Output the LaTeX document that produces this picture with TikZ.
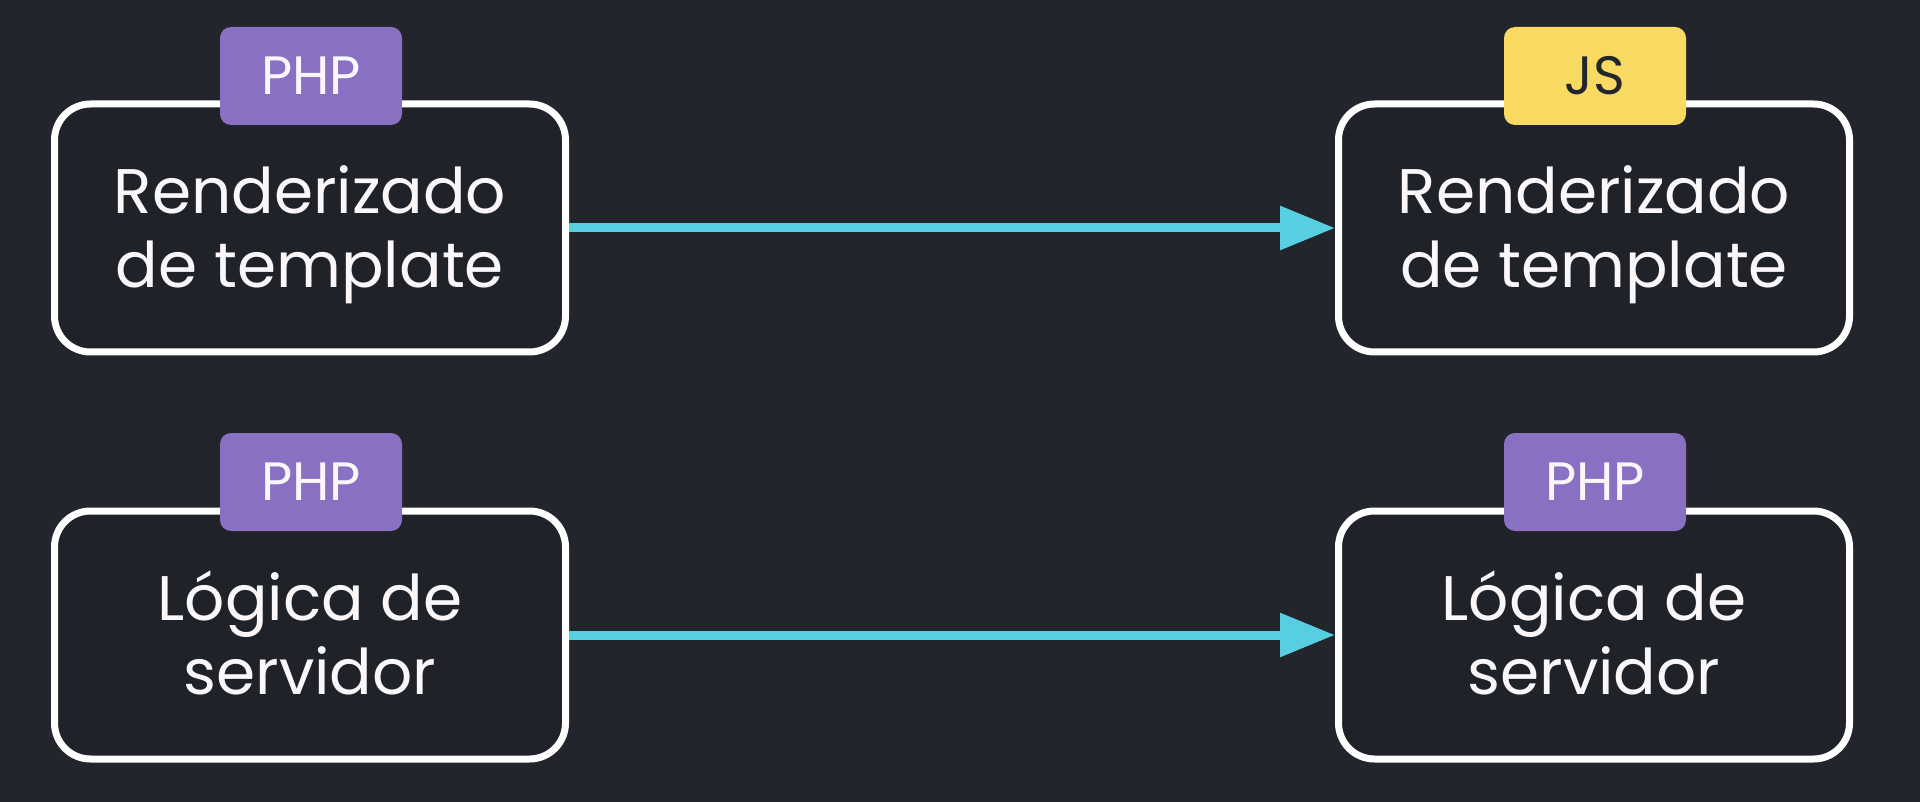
\documentclass[tikz,border=0pt]{standalone}
\usepackage{fontspec}
\setmainfont{Poppins}
\usetikzlibrary{arrows.meta}
\definecolor{bgdark}{HTML}{23252D}
\definecolor{boxfill}{HTML}{202229}
\definecolor{phppurple}{HTML}{8A70C3}
\definecolor{jsyellow}{HTML}{F8D962}
\definecolor{flowcyan}{HTML}{57CFE0}
\definecolor{labelwhite}{HTML}{FAF7FB}
% two centred lines, set a little below the box centre
\newcommand{\stagetext}[1]{\raisebox{-8pt}[\height][\depth]{\begin{tabular}{@{}c@{}}#1\end{tabular}}}
\tikzset{
  stagebox/.style={draw=white, line width=7pt, rounded corners=36pt,
    fill=boxfill, text=labelwhite,
    minimum width=511pt, minimum height=248pt, inner sep=0pt,
    font=\fontsize{63}{74}\selectfont},
  langtag/.style={rounded corners=11pt, minimum width=182pt,
    minimum height=98pt, inner sep=0pt,
    font=\fontsize{54}{60}\selectfont},
  phptag/.style={langtag, fill=phppurple, text=labelwhite},
  jstag/.style={langtag, fill=jsyellow, text=bgdark},
  flow/.style={draw=flowcyan, line width=9pt,
    -{Triangle[length=55pt,width=42pt]}}
}
\begin{document}
\begin{tikzpicture}[x=1pt,y=-1pt]
  \fill[bgdark] (0,0) rectangle (1920,802);
  \useasboundingbox (0,0) rectangle (1920,802);

  % stage boxes
  \node[stagebox] (tplphp) at (310,228) {\stagetext{Renderizado\\de template}};
  \node[stagebox] (tpljs)  at (1594,228) {\stagetext{Renderizado\\de template}};
  \node[stagebox] (srvold) at (310,635) {\stagetext{Lógica de\\servidor}};
  \node[stagebox] (srvnew) at (1594,635) {\stagetext{Lógica de\\servidor}};

  % language tags on the top edges
  \node[phptag] (tagA) at (311,76)  {PHP};
  \node[jstag]  (tagB) at (1595,76) {JS};
  \node[phptag] (tagC) at (311,482) {PHP};
  \node[phptag] (tagD) at (1595,482) {PHP};

  % migration arrows
  \draw[flow] (tplphp.east) -- (tpljs.west);
  \draw[flow] (srvold.east) -- (srvnew.west);
\end{tikzpicture}
\end{document}
